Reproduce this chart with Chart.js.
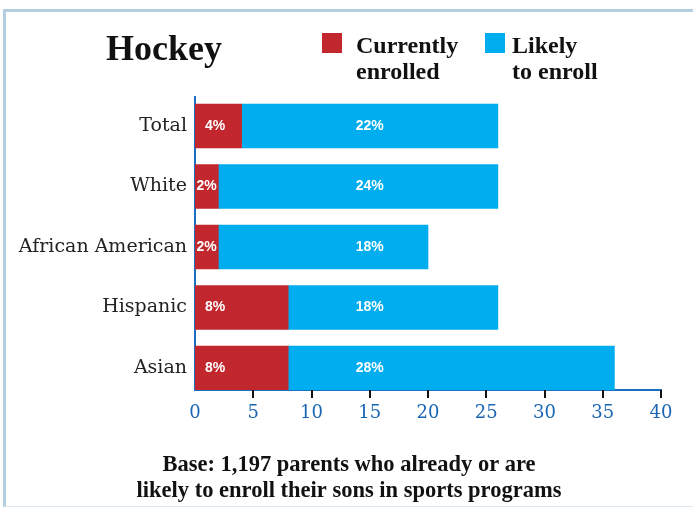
<!DOCTYPE html>
<html>
<head>
<meta charset="utf-8">
<script src="https://cdn.jsdelivr.net/npm/chart.js@4"></script>
<style>
    html, body { margin: 0; padding: 0; background: #fff; }
    #wrap {
        position: relative;
        width: 693px;
        height: 507px;
        box-sizing: border-box;
    }
    #frame {
        position: absolute;
        left: 3px; top: 9px; right: 0; bottom: 0;
        border-top: 3px solid #b3cfdf;
        border-left: 3px solid #b3cfdf;
        border-bottom: 1px solid #dbe7ee;
    }
    canvas { position: absolute; left: 0; top: 0; }
</style>
</head>
<body>
<div id="wrap">
    <div id="frame"></div>
    <canvas id="hockey-chart" width="693" height="507"></canvas>
</div>

<script>
const categories = ['Total', 'White', 'African American', 'Hispanic', 'Asian'];
const currentlyEnrolled = [4, 2, 2, 8, 8];
const likelyToEnroll = [22, 24, 18, 18, 28];
const xTicks = [0, 5, 10, 15, 20, 25, 30, 35, 40];

const RED = '#c1272d';
const BLUE = '#00adee';
const SERIF = '"Liberation Serif", "DejaVu Serif", serif';
const AXIS_FONT = '"DejaVu Serif", serif';
const SANS = '"Liberation Sans", Arial, sans-serif';

// 行インデックスを縦軸の数値として使う
const toPoints = values => values.map((v, i) => ({ x: v, y: i }));

// 見出し・凡例・注記
const decorPlugin = {
    id: 'decor',
    afterDraw(chart) {
        const ctx = chart.ctx;
        ctx.save();
        ctx.fillStyle = '#111';
        ctx.textBaseline = 'alphabetic';

        ctx.font = 'bold 36px ' + SERIF;
        ctx.textAlign = 'left';
        ctx.fillText('Hockey', 106, 60);

        // 凡例
        const legend = [
            { color: RED, lines: ['Currently', 'enrolled'], box: 322, text: 356 },
            { color: BLUE, lines: ['Likely', 'to enroll'], box: 485, text: 512 }
        ];
        legend.forEach(item => {
            ctx.fillStyle = item.color;
            ctx.fillRect(item.box, 33, 20, 20);
            ctx.fillStyle = '#111';
            ctx.font = 'bold 24px ' + SERIF;
            ctx.fillText(item.lines[0], item.text, 53);
            ctx.fillText(item.lines[1], item.text, 79);
        });

        ctx.font = 'bold 22.5px ' + SERIF;
        ctx.textAlign = 'center';
        ctx.fillText('Base: 1,197 parents who already or are', 349, 471);
        ctx.fillText('likely to enroll their sons in sports programs', 349, 497);
        ctx.restore();
    }
};

// 横軸の目盛り線（軸の下側に短く）
const xTickMarks = {
    id: 'xTickMarks',
    afterDraw(chart) {
        const ctx = chart.ctx;
        const xScale = chart.scales.x;
        const y0 = chart.chartArea.bottom;
        ctx.save();
        ctx.fillStyle = '#111';
        xTicks.forEach(v => {
            if (v === 0) return;
            const x = Math.round(xScale.getPixelForValue(v));
            ctx.fillRect(x - 1, y0, 2, 8);
        });
        ctx.restore();
    }
};

// バー内のパーセント表示
const barLabels = {
    id: 'barLabels',
    afterDatasetsDraw(chart) {
        const ctx = chart.ctx;
        const xScale = chart.scales.x;
        ctx.save();
        ctx.fillStyle = '#fff';
        ctx.font = 'bold 14px ' + SANS;
        ctx.textAlign = 'center';
        ctx.textBaseline = 'middle';

        chart.getDatasetMeta(0).data.forEach((bar, i) => {
            const left = xScale.getPixelForValue(0);
            const mid = (left + bar.x) / 2;
            ctx.fillText(currentlyEnrolled[i] + '%', Math.min(mid, left + 20), bar.y);
        });
        chart.getDatasetMeta(1).data.forEach((bar, i) => {
            ctx.fillText(likelyToEnroll[i] + '%', xScale.getPixelForValue(15), bar.y);
        });
        ctx.restore();
    }
};

const ctx = document.getElementById('hockey-chart').getContext('2d');
new Chart(ctx, {
    type: 'bar',
    data: {
        datasets: [
            { label: 'Currently enrolled', data: toPoints(currentlyEnrolled), backgroundColor: RED },
            { label: 'Likely to enroll', data: toPoints(likelyToEnroll), backgroundColor: BLUE }
        ]
    },
    options: {
        indexAxis: 'y',
        responsive: false,
        animation: false,
        layout: { padding: { left: 0, right: 32, top: 97, bottom: 0 } },
        plugins: {
            legend: { display: false },
            tooltip: { enabled: false }
        },
        datasets: {
            bar: { barThickness: 44 }
        },
        scales: {
            x: {
                type: 'linear',
                stacked: true,
                min: 0,
                max: 40,
                afterBuildTicks: scale => { scale.ticks = xTicks.map(v => ({ value: v })); },
                afterFit: scale => { scale.height = 117; },
                border: { display: true, color: '#1a6fc0', width: 2 },
                grid: { display: false },
                ticks: {
                    color: '#1a66b3',
                    font: { family: AXIS_FONT, size: 18 },
                    padding: 5,
                    maxRotation: 0
                }
            },
            y: {
                type: 'linear',
                stacked: true,
                reverse: true,
                offset: false,
                min: -0.48,
                max: 4.363,
                afterBuildTicks: scale => { scale.ticks = categories.map((c, i) => ({ value: i })); },
                afterFit: scale => { scale.width = 195; },
                border: { display: true, color: '#1a6fc0', width: 2 },
                grid: { display: false, offset: false },
                ticks: {
                    color: '#222',
                    font: { family: AXIS_FONT, size: 19 },
                    padding: 0,
                    callback: value => categories[value]
                }
            }
        }
    },
    plugins: [decorPlugin, barLabels, xTickMarks]
});
</script>
</body>
</html>
